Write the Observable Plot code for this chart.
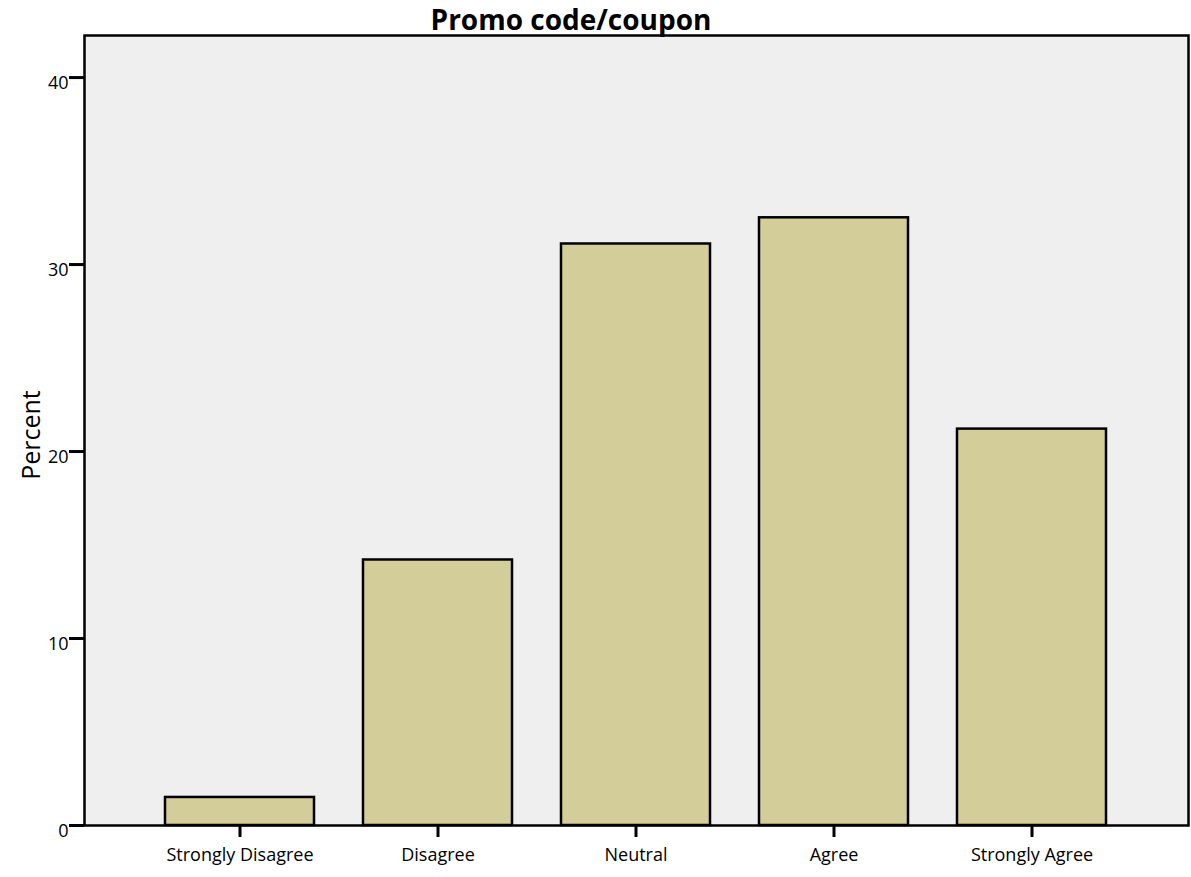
<!DOCTYPE html>
<html>
<head>
<meta charset="utf-8">
<script src="https://cdn.jsdelivr.net/npm/d3@7"></script>
<script src="https://cdn.jsdelivr.net/npm/@observablehq/plot@0.6"></script>
<style>
  html, body { margin: 0; padding: 0; background: #fff; }
  #wrap { position: relative; width: 1191px; height: 877px; font-family: "Open Sans", sans-serif; }
  #title { position: absolute; left: 0; top: 1px; width: 1142px; text-align: center; font-weight: bold; font-size: 28px; line-height: 36px; color: #000; }
  #ylabel { position: absolute; left: 30px; top: 435px; transform: translate(-50%, -50%) rotate(-90deg); font-size: 25px; color: #000; white-space: nowrap; }
</style>
</head>
<body>
<div id="wrap">
  <div id="chart"></div>
  <div id="title">Promo code/coupon</div>
  <div id="ylabel">Percent</div>
</div>
<script>
const categories = ["Strongly Disagree", "Disagree", "Neutral", "Agree", "Strongly Agree"];
const percents = [1.5, 14.2, 31.1, 32.5, 21.2];
const yTicks = [0, 10, 20, 30, 40];

const data = categories.map((c, i) => ({category: c, percent: percents[i]}));

const chart = Plot.plot({
  width: 1191,
  height: 877,
  marginLeft: 84,
  marginRight: 3,
  marginTop: 35,
  marginBottom: 52,
  style: {fontFamily: "Open Sans, sans-serif", fontSize: "18px", color: "#000", background: "transparent"},
  x: {domain: categories, paddingInner: 0.246, paddingOuter: 0.397, align: 0.5, label: null},
  y: {domain: [0, 42.25], label: null},
  marks: [
    Plot.frame({fill: "#efefef", stroke: "none"}),
    Plot.barY(data, {x: "category", y: "percent", fill: "#d3ce99", stroke: "#000", strokeWidth: 2.5}),
    Plot.frame({stroke: "#000", strokeWidth: 2.5, fill: "none"}),
    Plot.ruleY([0], {stroke: "#000", strokeWidth: 3.5, x1: -1e9, x2: 1e9, clip: false}),
    Plot.axisY({ticks: yTicks, tickSize: 15, strokeWidth: 3, text: null, label: null}),
    Plot.axisY({ticks: yTicks, tickSize: 0, tickPadding: 16, fontSize: 18, dy: 6, label: null, tickFormat: d => String(d)}),
    Plot.axisX({tickSize: 12, tickPadding: 11, strokeWidth: 3, fontSize: 18, label: null})
  ]
});
document.getElementById("chart").appendChild(chart);
</script>
</body>
</html>
